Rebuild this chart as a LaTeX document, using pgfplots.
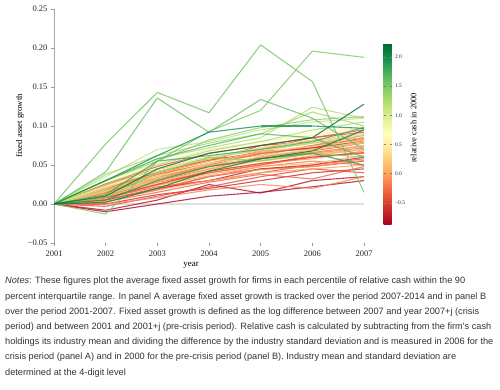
\documentclass[border=0pt]{standalone}
\usepackage{pgfplots}
\pgfplotsset{compat=1.18}
\usepackage{fontspec}
\setmainfont{Liberation Serif}
\newfontfamily\notesfont{Liberation Sans}
\pgfplotsset{colormap={rdylgn}{rgb255=(165,0,38) rgb255=(215,48,39) rgb255=(244,109,67) rgb255=(253,174,97) rgb255=(254,224,139) rgb255=(255,255,191) rgb255=(217,239,139) rgb255=(166,217,106) rgb255=(102,189,99) rgb255=(26,152,80) rgb255=(0,104,55)}}
\pgfplotsset{fl/.style={mesh, line width=1.1pt, opacity=0.78}}
\begin{document}
\begin{tikzpicture}
\useasboundingbox (0pt,0pt) rectangle (500pt,390pt);
\begin{axis}[
  at={(54pt,147pt)}, anchor=south west,
  scale only axis, width=310pt, height=234pt,
  xmin=2001, xmax=2007, ymin=-0.05, ymax=0.25,
  xtick={2001,2002,2003,2004,2005,2006,2007},
  xticklabels={2001,2002,2003,2004,2005,2006,2007},
  ytick={-0.05,0,0.05,0.1,0.15,0.2,0.25},
  yticklabels={−0.05,0.00,0.05,0.10,0.15,0.20,0.25},
  axis lines=left,
  axis line style={-, draw=black!35, line width=0.6pt},
  x axis line style={draw=none, opacity=0},
  tick align=outside, major tick length=3pt,
  tick style={black!40, line width=0.5pt},
  ticklabel style={font=\fontsize{8.5}{10}\selectfont, text=black!85},
  xticklabel style={yshift=-1pt},
  xlabel={year}, ylabel={fixed asset growth},
  xlabel style={font=\fontsize{9}{10}\selectfont, at={(axis description cs:0.442,-0.095)}, anchor=center},
  ylabel style={font=\fontsize{8.7}{10}\selectfont, at={(axis description cs:-0.11,0.5)}, anchor=center},
  colormap name=rdylgn,
  point meta min=-0.88, point meta max=2.24,
  colorbar,
  colorbar style={
    at={(parent axis.north east)}, anchor=north west, xshift=11pt, yshift=-34pt,
    scale only axis, width=8pt, height=182pt,
    ytick={-0.5,0,0.5,1,1.5,2},
    yticklabels={−0.5,0.0,0.5,1.0,1.5,2.0},
    yticklabel style={font=\fontsize{5.5}{6}\selectfont, text=black!85},
    axis line style={draw=none},
    tick style={black!50, line width=0.4pt}, major tick length=2pt,
    ylabel={relative cash in 2000},
    ylabel style={font=\fontsize{8.4}{10}\selectfont, at={(axis description cs:3.75,0.533)}, anchor=center, rotate=0},
  },
]
\addplot[draw=black!12, line width=1.5pt, forget plot] coordinates {(2001,0) (2007,0)};
% red
\addplot[fl, point meta=-0.85] coordinates {(2001,0) (2002,-0.010) (2003,0.000) (2004,0.010) (2005,0.015) (2006,0.022) (2007,0.030)};
\addplot[fl, point meta=-0.80] coordinates {(2001,0) (2002,-0.008) (2003,0.005) (2004,0.025) (2005,0.014) (2006,0.030) (2007,0.035)};
\addplot[fl, point meta=-0.75] coordinates {(2001,0) (2002,0.005) (2003,0.020) (2004,0.030) (2005,0.045) (2006,0.050) (2007,0.060)};
\addplot[fl, point meta=-0.70] coordinates {(2001,0) (2002,0.010) (2003,0.030) (2004,0.045) (2005,0.060) (2006,0.070) (2007,0.080)};
\addplot[fl, point meta=-0.65] coordinates {(2001,0) (2002,0.000) (2003,0.012) (2004,0.020) (2005,0.030) (2006,0.040) (2007,0.045)};
\addplot[fl, point meta=-0.60] coordinates {(2001,0) (2002,0.015) (2003,0.035) (2004,0.050) (2005,0.065) (2006,0.072) (2007,0.085)};
\addplot[fl, point meta=-0.55] coordinates {(2001,0) (2002,0.005) (2003,0.018) (2004,0.035) (2005,0.045) (2006,0.048) (2007,0.055)};
\addplot[fl, point meta=-0.50] coordinates {(2001,0) (2002,0.020) (2003,0.040) (2004,0.055) (2005,0.075) (2006,0.080) (2007,0.090)};
\addplot[fl, point meta=-0.45] coordinates {(2001,0) (2002,-0.003) (2003,0.010) (2004,0.022) (2005,0.035) (2006,0.045) (2007,0.040)};
\addplot[fl, point meta=-0.42] coordinates {(2001,0) (2002,0.012) (2003,0.028) (2004,0.040) (2005,0.050) (2006,0.062) (2007,0.070)};
\addplot[fl, point meta=-0.38] coordinates {(2001,0) (2002,0.008) (2003,0.022) (2004,0.030) (2005,0.040) (2006,0.050) (2007,0.058)};
\addplot[fl, point meta=-0.35] coordinates {(2001,0) (2002,0.025) (2003,0.045) (2004,0.060) (2005,0.070) (2006,0.085) (2007,0.095)};
% orange
\addplot[fl, point meta=-0.33] coordinates {(2001,0) (2002,0.003) (2003,0.015) (2004,0.028) (2005,0.038) (2006,0.032) (2007,0.048)};
\addplot[fl, point meta=-0.30] coordinates {(2001,0) (2002,0.018) (2003,0.032) (2004,0.048) (2005,0.058) (2006,0.068) (2007,0.078)};
\addplot[fl, point meta=-0.27] coordinates {(2001,0) (2002,0.010) (2003,0.025) (2004,0.040) (2005,0.050) (2006,0.060) (2007,0.065)};
\addplot[fl, point meta=-0.24] coordinates {(2001,0) (2002,0.022) (2003,0.040) (2004,0.058) (2005,0.062) (2006,0.075) (2007,0.088)};
\addplot[fl, point meta=-0.21] coordinates {(2001,0) (2002,0.006) (2003,0.020) (2004,0.035) (2005,0.048) (2006,0.055) (2007,0.050)};
\addplot[fl, point meta=-0.18] coordinates {(2001,0) (2002,0.015) (2003,0.030) (2004,0.050) (2005,0.055) (2006,0.065) (2007,0.072)};
\addplot[fl, point meta=-0.15] coordinates {(2001,0) (2002,0.000) (2003,0.008) (2004,0.018) (2005,0.025) (2006,0.020) (2007,0.035)};
\addplot[fl, point meta=-0.12] coordinates {(2001,0) (2002,0.020) (2003,0.038) (2004,0.052) (2005,0.068) (2006,0.070) (2007,0.082)};
\addplot[fl, point meta=-0.09] coordinates {(2001,0) (2002,0.012) (2003,0.028) (2004,0.042) (2005,0.052) (2006,0.058) (2007,0.068)};
\addplot[fl, point meta=-0.06] coordinates {(2001,0) (2002,0.008) (2003,0.024) (2004,0.036) (2005,0.044) (2006,0.048) (2007,0.056)};
\addplot[fl, point meta=-0.03] coordinates {(2001,0) (2002,0.018) (2003,0.035) (2004,0.060) (2005,0.072) (2006,0.082) (2007,0.090)};
\addplot[fl, point meta=0.00] coordinates {(2001,0) (2002,0.004) (2003,0.018) (2004,0.030) (2005,0.040) (2006,0.045) (2007,0.050)};
\addplot[fl, point meta=0.03] coordinates {(2001,0) (2002,0.014) (2003,0.032) (2004,0.045) (2005,0.058) (2006,0.066) (2007,0.075)};
\addplot[fl, point meta=0.06] coordinates {(2001,0) (2002,0.024) (2003,0.044) (2004,0.060) (2005,0.068) (2006,0.078) (2007,0.085)};
\addplot[fl, point meta=0.09] coordinates {(2001,0) (2002,0.010) (2003,0.026) (2004,0.038) (2005,0.048) (2006,0.052) (2007,0.062)};
\addplot[fl, point meta=0.12] coordinates {(2001,0) (2002,0.016) (2003,0.036) (2004,0.050) (2005,0.060) (2006,0.070) (2007,0.078)};
% mixed
\addplot[fl, point meta=-0.60] coordinates {(2001,0) (2002,0.020) (2003,0.040) (2004,0.056) (2005,0.066) (2006,0.072) (2007,0.080)};
\addplot[fl, point meta=-0.50] coordinates {(2001,0) (2002,0.008) (2003,0.025) (2004,0.042) (2005,0.052) (2006,0.060) (2007,0.066)};
\addplot[fl, point meta=-0.40] coordinates {(2001,0) (2002,0.026) (2003,0.048) (2004,0.065) (2005,0.075) (2006,0.085) (2007,0.092)};
\addplot[fl, point meta=0.30] coordinates {(2001,0) (2002,0.012) (2003,0.030) (2004,0.046) (2005,0.055) (2006,0.062) (2007,0.070)};
\addplot[fl, point meta=-0.20] coordinates {(2001,0) (2002,0.018) (2003,0.038) (2004,0.052) (2005,0.064) (2006,0.075) (2007,0.083)};
\addplot[fl, point meta=0.45] coordinates {(2001,0) (2002,0.030) (2003,0.052) (2004,0.070) (2005,0.080) (2006,0.088) (2007,0.098)};
\addplot[fl, point meta=-0.10] coordinates {(2001,0) (2002,0.014) (2003,0.034) (2004,0.048) (2005,0.058) (2006,0.066) (2007,0.074)};
\addplot[fl, point meta=0.60] coordinates {(2001,0) (2002,0.022) (2003,0.045) (2004,0.060) (2005,0.070) (2006,0.080) (2007,0.090)};
\addplot[fl, point meta=0.10] coordinates {(2001,0) (2002,0.010) (2003,0.028) (2004,0.044) (2005,0.056) (2006,0.064) (2007,0.070)};
\addplot[fl, point meta=0.70] coordinates {(2001,0) (2002,0.028) (2003,0.050) (2004,0.068) (2005,0.078) (2006,0.092) (2007,0.100)};
\addplot[fl, point meta=0.20] coordinates {(2001,0) (2002,0.016) (2003,0.040) (2004,0.055) (2005,0.066) (2006,0.074) (2007,0.082)};
% light green
\addplot[fl, point meta=1.15] coordinates {(2001,0) (2002,0.035) (2003,0.070) (2004,0.080) (2005,0.095) (2006,0.105) (2007,0.110)};
\addplot[fl, point meta=0.90] coordinates {(2001,0) (2002,0.020) (2003,0.045) (2004,0.060) (2005,0.072) (2006,0.082) (2007,0.090)};
\addplot[fl, point meta=1.25] coordinates {(2001,0) (2002,0.030) (2003,0.058) (2004,0.072) (2005,0.085) (2006,0.124) (2007,0.110)};
\addplot[fl, point meta=1.00] coordinates {(2001,0) (2002,0.012) (2003,0.035) (2004,0.052) (2005,0.062) (2006,0.070) (2007,0.080)};
\addplot[fl, point meta=1.30] coordinates {(2001,0) (2002,0.025) (2003,0.050) (2004,0.068) (2005,0.080) (2006,0.095) (2007,0.105)};
\addplot[fl, point meta=1.35] coordinates {(2001,0) (2002,0.038) (2003,0.062) (2004,0.078) (2005,0.090) (2006,0.118) (2007,0.100)};
\addplot[fl, point meta=1.20] coordinates {(2001,0) (2002,0.018) (2003,0.042) (2004,0.058) (2005,0.070) (2006,0.078) (2007,0.088)};
\addplot[fl, point meta=1.45] coordinates {(2001,0) (2002,0.030) (2003,0.055) (2004,0.082) (2005,0.098) (2006,0.108) (2007,0.112)};
% green
\addplot[fl, point meta=1.40] coordinates {(2001,0) (2002,0.008) (2003,0.040) (2004,0.060) (2005,0.055) (2006,0.065) (2007,0.060)};
\addplot[fl, point meta=1.50] coordinates {(2001,0) (2002,-0.013) (2003,0.055) (2004,0.093) (2005,0.120) (2006,0.196) (2007,0.188)};
\addplot[fl, point meta=1.55] coordinates {(2001,0) (2002,0.077) (2003,0.143) (2004,0.117) (2005,0.204) (2006,0.157) (2007,0.015)};
\addplot[fl, point meta=1.60] coordinates {(2001,0) (2002,0.041) (2003,0.136) (2004,0.092) (2005,0.134) (2006,0.110) (2007,0.070)};
\addplot[fl, point meta=1.70] coordinates {(2001,0) (2002,0.030) (2003,0.058) (2004,0.075) (2005,0.090) (2006,0.085) (2007,0.060)};
\addplot[fl, point meta=1.80] coordinates {(2001,0) (2002,0.012) (2003,0.055) (2004,0.062) (2005,0.070) (2006,0.080) (2007,0.098)};
\addplot[fl, point meta=1.90] coordinates {(2001,0) (2002,0.005) (2003,0.030) (2004,0.048) (2005,0.058) (2006,0.065) (2007,0.050)};
\addplot[fl, point meta=2.00] coordinates {(2001,0) (2002,0.030) (2003,0.062) (2004,0.092) (2005,0.100) (2006,0.100) (2007,0.097)};
\addplot[fl, point meta=2.10] coordinates {(2001,0) (2002,0.002) (2003,0.020) (2004,0.042) (2005,0.058) (2006,0.068) (2007,0.095)};
\addplot[fl, point meta=2.20] coordinates {(2001,0) (2002,0.010) (2003,0.045) (2004,0.065) (2005,0.075) (2006,0.085) (2007,0.128)};
\end{axis}
\node[anchor=north west, align=left, inner sep=0pt, font=\notesfont\fontsize{9.2}{15.2}\selectfont, text=black!80] at (5pt,113pt) {%
\textit{Notes}: These figures plot the average fixed asset growth for firms in each percentile of relative cash within the 90\\
percent interquartile range. In panel A average fixed asset growth is tracked over the period 2007-2014 and in panel B\\
over the period 2001-2007. Fixed asset growth is defined as the log difference between 2007 and year 2007+j (crisis\\
period) and between 2001 and 2001+j (pre-crisis period). Relative cash is calculated by subtracting from the firm's cash\\
holdings its industry mean and dividing the difference by the industry standard deviation and is measured in 2006 for the\\
crisis period (panel A) and in 2000 for the pre-crisis period (panel B). Industry mean and standard deviation are\\
determined at the 4-digit level};
\end{tikzpicture}
\end{document}
